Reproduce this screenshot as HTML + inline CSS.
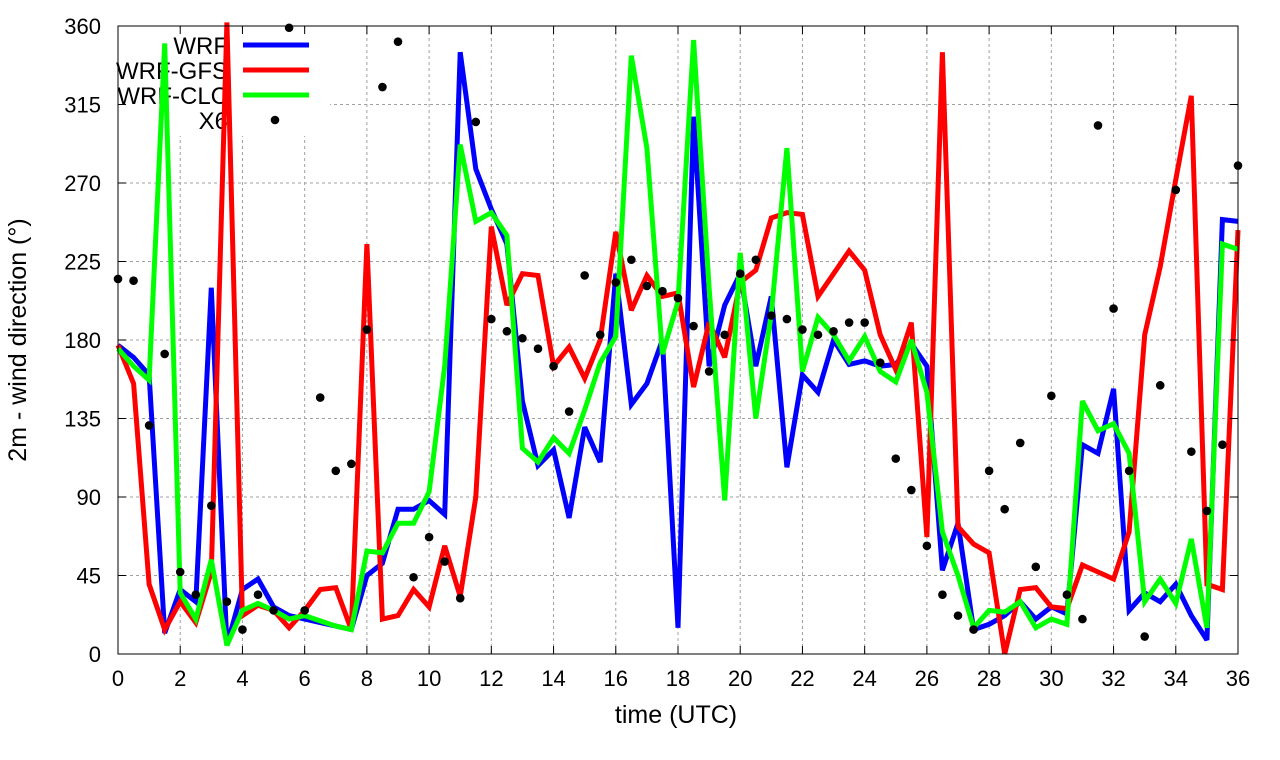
<!DOCTYPE html>
<html><head><meta charset="utf-8"><style>
html,body{margin:0;padding:0;background:#fff;}
svg{display:block;font-family:"Liberation Sans",sans-serif;}
</style></head><body>
<svg id="chart" width="1280" height="760" viewBox="0 0 1280 760" xmlns="http://www.w3.org/2000/svg">
<rect x="0" y="0" width="1280" height="760" fill="#fff"/>
<g id="grid"></g>
<rect x="100" y="28" width="230" height="108" fill="#fff"/>
<g id="legend"></g>
<g id="series"></g>
<rect x="118" y="26" width="1120" height="628" fill="none" stroke="#000" stroke-width="1"/>
<g id="axes"></g>
<text transform="translate(26,340) rotate(-90)" text-anchor="middle" font-size="25">2m - wind direction (°)</text>
<text x="676" y="723" text-anchor="middle" font-size="25">time (UTC)</text>
</svg>
<script>
const hours = [];
for (let i = 0; i <= 72; i++) hours.push(i / 2);
const xTicks = [0,2,4,6,8,10,12,14,16,18,20,22,24,26,28,30,32,34,36];
const yTicks = [0,45,90,135,180,225,270,315,360];
const seriesNames = ["WRF","WRF-GFS","WRF-CLC","X6"];
const wrf = [177,170,160,12,37,30,210,5,37,43,27,22,20,18,16,14,45,52,83,83,88,80,345,278,255,235,145,108,117,78,130,110,218,143,155,180,15,308,165,200,218,165,205,107,160,150,180,166,168,165,166,178,165,48,75,14,17,22,30,20,27,23,120,115,152,25,35,30,40,22,8,249,248];
const wrfGfs = [177,155,40,14,30,18,47,362,22,28,25,15,25,37,38,14,235,20,22,37,27,62,33,90,245,200,218,217,165,176,158,180,242,197,217,205,207,153,190,170,213,220,250,253,252,205,218,231,220,183,163,190,67,345,73,63,58,0,37,38,27,26,51,47,43,70,183,222,272,320,40,37,243];
const wrfClc = [175,165,157,350,35,20,54,5,25,29,25,20,22,19,16,14,59,58,75,75,93,165,292,248,253,240,118,110,124,115,140,167,182,343,290,172,202,352,210,88,230,135,195,290,162,193,183,168,182,162,156,180,150,70,45,15,25,24,30,15,20,17,145,128,132,115,30,43,29,66,15,235,232];
const x6 = [215,214,131,172,47,34,85,30,14,34,25,359,25,147,105,109,186,325,351,44,67,53,32,305,192,185,181,175,165,139,217,183,213,226,211,208,204,188,162,183,218,226,194,192,186,183,185,190,190,167,112,94,62,34,22,14,105,83,121,50,148,34,20,303,198,105,10,154,266,116,82,120,280];

const NS = "http://www.w3.org/2000/svg";
const X0 = 118, X1 = 1238, Y0 = 654, Y1 = 26;
function xs(h){ return X0 + (h/36)*(X1-X0); }
function ys(v){ return Y0 - (v/360)*(Y0-Y1); }
function mk(tag, attrs, parent){ const e = document.createElementNS(NS, tag); for (const k in attrs) e.setAttribute(k, attrs[k]); parent.appendChild(e); return e; }

const grid = document.getElementById('grid');
const axes = document.getElementById('axes');
xTicks.forEach(t => {
  const x = xs(t);
  if (t > 0 && t < 36) {
    const g = mk('line', {x1:x, y1:Y1, x2:x, y2:Y0, stroke:'#a0a0a0', 'stroke-width':1, 'stroke-dasharray':'3,3'}, grid);
    
    
  }
  const tk = mk('path', {d:`M${x},${Y0}v-8M${x},${Y1}v8`, stroke:'#000', 'stroke-width':1}, axes);
  
  
  const lb = mk('text', {x:x, y:686, 'text-anchor':'middle', 'font-size':22}, axes);
  lb.textContent = t;
  
  
});
yTicks.forEach(t => {
  const y = ys(t);
  if (t > 0 && t < 360) {
    const g = mk('line', {x1:X0, y1:y, x2:X1, y2:y, stroke:'#a0a0a0', 'stroke-width':1, 'stroke-dasharray':'3,3'}, grid);
    
    
  }
  const tk = mk('path', {d:`M${X0},${y}h8M${X1},${y}h-8`, stroke:'#000', 'stroke-width':1}, axes);
  
  
  const lb = mk('text', {x:101, y:y+8, 'text-anchor':'end', 'font-size':22}, axes);
  lb.textContent = t;
  
  
});

const legend = document.getElementById('legend');
const colors = ['#0000ff','#ff0000','#00ff00'];
seriesNames.forEach((n, i) => {
  const y = 45 + i*25;
  const t = mk('text', {x:228, y:y+9, 'text-anchor':'end', 'font-size':24}, legend);
  t.textContent = n;
  
  
  if (i < 3) {
    const l = mk('line', {x1:243, y1:y, x2:309, y2:y, stroke:colors[i], 'stroke-width':5}, legend);
    
    
  } else {
    const c = mk('circle', {cx:275, cy:y, r:4.3, fill:'#000'}, legend);
    
    
  }
});

const layer = document.getElementById('series');
[wrf, wrfGfs, wrfClc].forEach((arr, i) => {
  const pts = arr.map((v, j) => xs(hours[j]).toFixed(1) + ',' + ys(Math.min(v,362)).toFixed(1)).join(' ');
  const p = mk('polyline', {points:pts, fill:'none', stroke:colors[i], 'stroke-width':5, 'stroke-linejoin':'miter', 'stroke-miterlimit':3}, layer);
  
  
});
x6.forEach((v, j) => {
  const c = mk('circle', {cx:xs(hours[j]), cy:ys(v), r:4.3, fill:'#000'}, layer);
  
  
});
</script>
</body></html>
